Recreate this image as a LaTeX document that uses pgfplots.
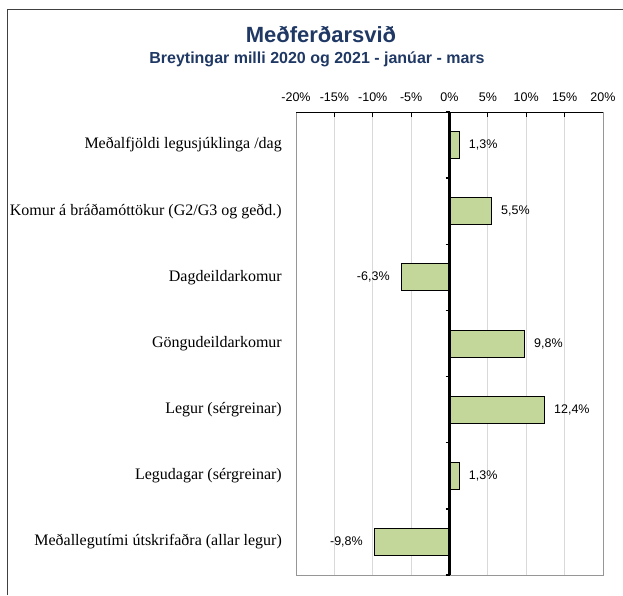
\documentclass[border=0pt]{standalone}
\usepackage{pgfplots}
\pgfplotsset{compat=1.18}
\usepackage{pgfplotstable}
\usepackage{fontspec}
\setmainfont{Liberation Serif}
\newfontfamily\arial{Liberation Sans}
\definecolor{barfill}{RGB}{196,215,155}
\definecolor{titleblue}{RGB}{31,56,100}
\definecolor{gridgray}{RGB}{217,217,217}
\definecolor{framegray}{RGB}{150,150,150}

\pgfplotstableread{
y val label
7 1.3 1,3
6 5.5 5,5
4 9.8 9,8
3 12.4 12,4
2 1.3 1,3
}\posdata
\pgfplotstableread{
y val label
5 -6.3 -6,3
1 -9.8 -9,8
}\negdata

\begin{document}
\begin{tikzpicture}
\useasboundingbox (0,0) rectangle (623pt,595pt);
\draw[black!75, line width=1pt] (7.5pt,0) -- (7.5pt,585.5pt) -- (623pt,585.5pt);
\begin{axis}[
  at={(296pt,20pt)}, anchor=south west,
  scale only axis, width=307pt, height=463pt,
  xmin=-20, xmax=20, ymin=0.5, ymax=7.5,
  xtick={-20,-15,...,20},
  xticklabels={-20\%,-15\%,-10\%,-5\%,0\%,5\%,10\%,15\%,20\%},
  xtick pos=upper, xticklabel pos=upper,
  xticklabel style={font=\arial\fontsize{12.5}{14}\selectfont, anchor=base, inner sep=0pt, yshift=11pt},
  xmajorgrids, major grid style={gridgray, line width=1pt},
  tick align=inside, major tick length=5pt,
  x tick style={black, line width=0.8pt},
  ytick={1,...,7},
  yticklabels={Meðallegutími útskrifaðra (allar legur), Legudagar (sérgreinar), Legur (sérgreinar), Göngudeildarkomur, Dagdeildarkomur, Komur á bráðamóttökur (G2/G3 og geðd.), Meðalfjöldi legusjúklinga /dag},
  y tick style={draw=none},
  yticklabel style={font=\fontsize{16}{19}\selectfont, anchor=east, inner sep=0pt, xshift=-14pt},
  axis line style={framegray, line width=1pt},
  clip=false,
]
\addplot[xbar, bar shift=0pt, bar width=27pt, fill=barfill, draw=black, line width=1pt,
  point meta=explicit symbolic,
  nodes near coords={\pgfplotspointmeta\%},
  every node near coord/.append style={font=\arial\fontsize{12.5}{14}\selectfont, anchor=west, inner sep=0pt, xshift=9pt, text=black}]
  table[x=val, y=y, meta=label]{\posdata};
\addplot[xbar, bar shift=0pt, bar width=27pt, fill=barfill, draw=black, line width=1pt,
  point meta=explicit symbolic,
  nodes near coords={\pgfplotspointmeta\%},
  every node near coord/.append style={font=\arial\fontsize{12.5}{14}\selectfont, anchor=east, inner sep=0pt, xshift=-11pt, text=black}]
  table[x=val, y=y, meta=label]{\negdata};
\draw[black, line width=1pt] (rel axis cs:0,1) -- (rel axis cs:1,1);
\end{axis}
\begin{axis}[
  at={(296pt,20pt)}, anchor=south west,
  scale only axis, width=307pt, height=463pt,
  xmin=-20, xmax=20, ymin=0.5, ymax=7.5,
  axis x line=none, axis y line*=middle,
  xtick=\empty,
  ytick={0.5,1.5,...,7.5}, yticklabels={},
  y axis line style={black, line width=3pt},
  tick align=outside, major tick length=4pt,
  y tick style={black, line width=1.5pt},
]
\end{axis}
\node[font=\arial\bfseries\fontsize{22}{26}\selectfont, text=titleblue, anchor=base] at (321pt,552pt) {Meðferðarsvið};
\node[font=\arial\bfseries\fontsize{16}{19}\selectfont, text=titleblue, anchor=base] at (317pt,531pt) {Breytingar milli 2020 og 2021 - janúar - mars};
\end{tikzpicture}
\end{document}
